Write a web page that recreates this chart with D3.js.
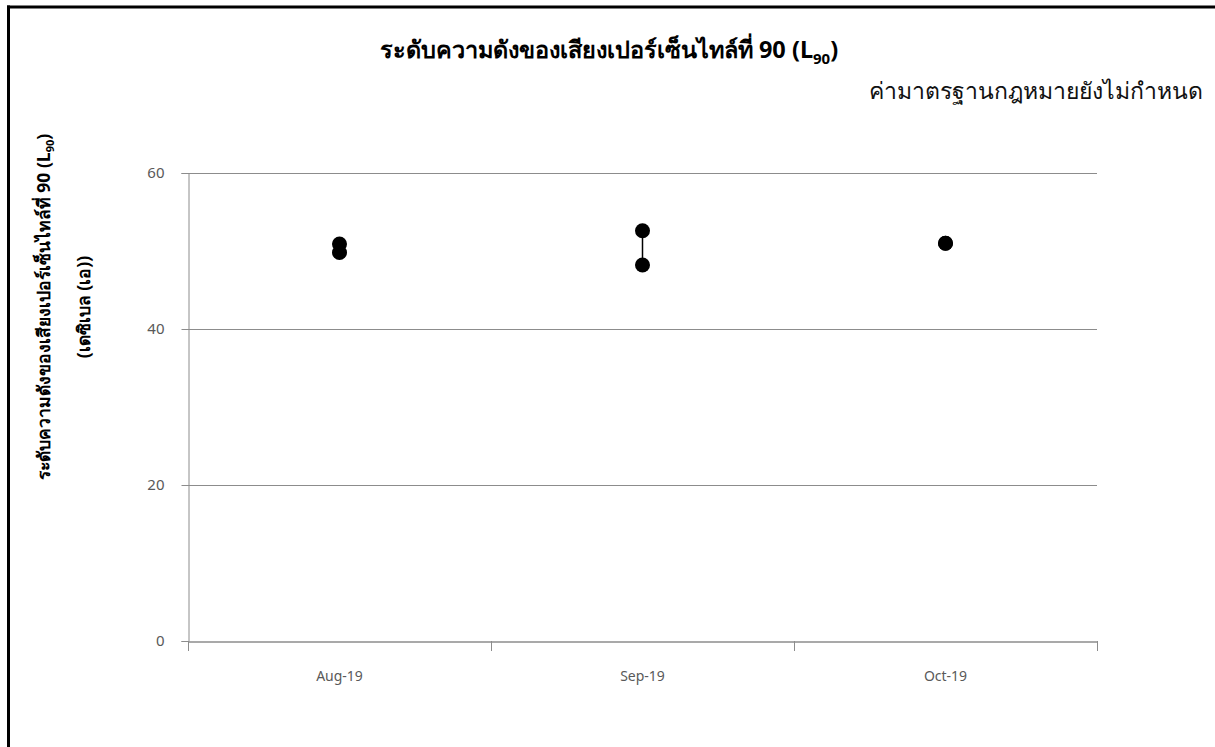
<!DOCTYPE html>
<html>
<head>
<meta charset="utf-8">
<script src="https://cdn.jsdelivr.net/npm/d3@7"></script>
<style>
  body { margin: 0; background: #fff; }
  svg { display: block; font-family: "Noto Sans", "DejaVu Sans", sans-serif; }
</style>
</head>
<body>
<div id="chart"></div>
<script>
// ข้อมูล
const months = ["Aug-19", "Sep-19", "Oct-19"];
const maxValues = [50.9, 52.6, 51.0];
const minValues = [49.8, 48.2, 51.0];
const yTicks = [0, 20, 40, 60];

const width = 1215, height = 747;
const margin = {left: 188, right: 118, top: 173, bottom: 106};
const fontName = '"Noto Sans", "DejaVu Sans", sans-serif';

const svg = d3.select("#chart")
    .append("svg")
    .attr("width", width)
    .attr("height", height);

// กรอบ
svg.append("line")
    .attr("x1", 7).attr("x2", width)
    .attr("y1", 7).attr("y2", 7)
    .attr("stroke", "#000").attr("stroke-width", 3);
svg.append("line")
    .attr("x1", 8.5).attr("x2", 8.5)
    .attr("y1", 5.5).attr("y2", height)
    .attr("stroke", "#000").attr("stroke-width", 3);

const x = d3.scaleBand()
    .domain(months)
    .range([margin.left, width - margin.right]);

const y = d3.scaleLinear()
    .domain([0, 60])
    .range([height - margin.bottom, margin.top]);

// เส้นกริด
svg.append("g")
    .selectAll("line")
    .data(yTicks.filter(d => d > 0))
    .join("line")
    .attr("x1", margin.left).attr("x2", width - margin.right)
    .attr("y1", d => y(d) + 0.5).attr("y2", d => y(d) + 0.5)
    .attr("stroke", "#8c8c8c").attr("stroke-width", 1);

// แกน y
const yAxis = svg.append("g")
    .attr("transform", `translate(${margin.left + 0.5},0)`)
    .call(d3.axisLeft(y).tickValues(yTicks).tickSize(7).tickPadding(17));
yAxis.attr("font-family", null);
yAxis.select(".domain").attr("stroke", "#8c8c8c");
yAxis.selectAll(".tick line").attr("stroke", "#8c8c8c");
yAxis.selectAll(".tick text")
    .attr("fill", "#595959")
    .style("font-family", fontName)
    .style("font-size", "15px");

// แกน x
const xAxis = svg.append("g")
    .attr("transform", `translate(0,${y(0) + 0.5})`)
    .call(d3.axisBottom(x).tickSize(0).tickPadding(30));
xAxis.attr("font-family", null);
xAxis.select(".domain").attr("stroke", "#8c8c8c").attr("stroke-width", 1.5);
xAxis.selectAll(".tick text")
    .attr("fill", "#595959")
    .style("font-family", fontName)
    .style("font-size", "14px");
// ขีดแบ่งหมวด
const bounds = months.map(m => x(m)).concat([x.range()[1]]);
svg.append("g")
    .selectAll("line")
    .data(bounds)
    .join("line")
    .attr("x1", d => d + 0.5).attr("x2", d => d + 0.5)
    .attr("y1", y(0)).attr("y2", y(0) + 10)
    .attr("stroke", "#8c8c8c");

// เส้นสูง-ต่ำ
svg.append("g")
    .selectAll("line")
    .data(months)
    .join("line")
    .attr("x1", d => x(d) + x.bandwidth() / 2)
    .attr("x2", d => x(d) + x.bandwidth() / 2)
    .attr("y1", (d, i) => y(maxValues[i]))
    .attr("y2", (d, i) => y(minValues[i]))
    .attr("stroke", "#000").attr("stroke-width", 1.5);

// จุด
const allPoints = months.map((m, i) => ({m, v: maxValues[i]}))
    .concat(months.map((m, i) => ({m, v: minValues[i]})));
svg.append("g")
    .selectAll("circle")
    .data(allPoints)
    .join("circle")
    .attr("cx", d => x(d.m) + x.bandwidth() / 2)
    .attr("cy", d => y(d.v))
    .attr("r", 7.5)
    .attr("fill", "#000");

// ชื่อกราฟ
const title = svg.append("text")
    .attr("x", 609).attr("y", 58)
    .attr("text-anchor", "middle")
    .style("font-size", "23.5px")
    .style("font-weight", "bold")
    .attr("fill", "#000");
title.append("tspan").text("ระดับความดังของเสียงเปอร์เซ็นไทล์ที่ 90 (L");
title.append("tspan").text("90").style("font-size", "15px").attr("dy", 6);
title.append("tspan").text(")").attr("dy", -6);

svg.append("text")
    .attr("x", 1203).attr("y", 99)
    .attr("text-anchor", "end")
    .style("font-size", "23px")
    .attr("fill", "#111")
    .text("ค่ามาตรฐานกฎหมายยังไม่กำหนด");

// ชื่อแกน y
const yTitle = svg.append("g")
    .attr("transform", "translate(0,307) rotate(-90)");
const l1 = yTitle.append("text")
    .attr("x", 0).attr("y", 50)
    .attr("text-anchor", "middle")
    .style("font-size", "17.5px")
    .style("font-weight", "bold");
l1.append("tspan").text("ระดับความดังของเสียงเปอร์เซ็นไทล์ที่ 90 (L");
l1.append("tspan").text("90").style("font-size", "11px").attr("dy", 4);
l1.append("tspan").text(")").attr("dy", -4);
yTitle.append("text")
    .attr("x", 0).attr("y", 90)
    .attr("text-anchor", "middle")
    .style("font-size", "17.5px")
    .style("font-weight", "bold")
    .text("(เดซิเบล (เอ))");
</script>
</body>
</html>
